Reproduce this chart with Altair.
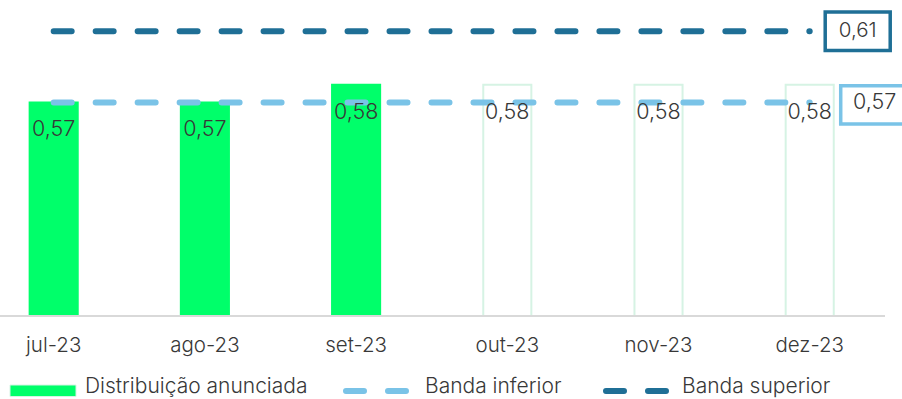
import altair as alt
import pandas as pd

# Monthly distribution per share (R$) and the guidance band
meses = ["jul-23", "ago-23", "set-23", "out-23", "nov-23", "dez-23"]
distribuicao = [0.57, 0.57, 0.58, 0.58, 0.58, 0.58]
situacao = ["Anunciada", "Anunciada", "Anunciada", "Estimada", "Estimada", "Estimada"]
banda_inferior = [0.57, 0.57, 0.57, 0.57, 0.57, 0.57]
banda_superior = [0.61, 0.61, 0.61, 0.61, 0.61, 0.61]
legenda = ["Distribuição anunciada", "Banda inferior", "Banda superior"]

VERDE = "#00FF6A"
MENTA = "#D6F3E4"
AZUL_CLARO = "#7AC3E7"
AZUL_ESCURO = "#1F6F96"
TEXTO = "#383838"
FONTE = "Inter"
PESO = 300
BASE = 0.45  # bottom of the value axis

barras_df = pd.DataFrame({"mes": meses, "valor": distribuicao, "situacao": situacao})
bandas_df = pd.DataFrame({
    "mes": meses + meses,
    "valor": banda_inferior + banda_superior,
    "banda": [legenda[1]] * len(meses) + [legenda[2]] * len(meses),
})
inf_df = pd.DataFrame({"mes": [meses[-1]], "valor": [banda_inferior[-1]]})
sup_df = pd.DataFrame({"mes": [meses[-1]], "valor": [banda_superior[-1]]})
um = pd.DataFrame({"k": [0]})

rotulo = "replace(format(datum.valor, '.2f'), '.', ',')"

x_enc = alt.X(
    "mes:N", sort=meses,
    scale=alt.Scale(type="band", domain=meses, range=[-0.9, 864.3],
                    paddingInner=0.682, paddingOuter=0.202),
    axis=alt.Axis(title=None, domain=False, ticks=False, grid=False, labelAngle=0,
                  labelFont=FONTE, labelFontSize=20.5, labelFontWeight=PESO,
                  labelColor=TEXTO, labelPadding=19),
)
y_scale = alt.Scale(domain=[BASE, 0.61], range=[316, 31.3], zero=False, nice=False)
y_enc = alt.Y("valor:Q", scale=y_scale, axis=None)

barras = alt.Chart(barras_df).mark_bar(strokeWidth=2).encode(
    x=x_enc,
    y=y_enc,
    y2=alt.datum(BASE),
    fill=alt.Fill("situacao:N", scale=alt.Scale(domain=["Anunciada", "Estimada"],
                                                 range=[VERDE, "#FFFFFF"]), legend=None),
    stroke=alt.Stroke("situacao:N", scale=alt.Scale(domain=["Anunciada", "Estimada"],
                                                     range=[VERDE, MENTA]), legend=None),
)

eixo = alt.Chart(um).mark_rule(color="#D9D9D9", strokeWidth=2).encode(
    x=alt.value(0), x2=alt.value(885), y=alt.value(316)
)

linhas = alt.Chart(bandas_df).mark_line(
    strokeWidth=6, strokeDash=[18, 23.98], strokeCap="round"
).encode(
    x=x_enc,
    y=y_enc,
    color=alt.Color("banda:N", scale=alt.Scale(domain=legenda[1:],
                                               range=[AZUL_CLARO, AZUL_ESCURO]), legend=None),
    detail="banda:N",
)

rotulos = alt.Chart(barras_df).transform_calculate(txt=rotulo).mark_text(
    font=FONTE, fontSize=21.5, fontWeight=PESO, color=TEXTO, baseline="alphabetic", dy=34
).encode(x=x_enc, y=y_enc, text="txt:N")

CAIXA = "M-1,-0.592H1V0.592H-1Z"

caixa_sup = alt.Chart(sup_df).mark_point(
    shape=CAIXA, size=4225, filled=False, fill="#FFFFFF", fillOpacity=1,
    stroke=AZUL_ESCURO, strokeWidth=3.5, opacity=1, xOffset=48
).encode(x=x_enc, y=y_enc)
texto_sup = alt.Chart(sup_df).transform_calculate(txt=rotulo).mark_text(
    font=FONTE, fontSize=20.5, fontWeight=PESO, color=TEXTO, baseline="middle", xOffset=48
).encode(x=x_enc, y=y_enc, text="txt:N")

caixa_inf = alt.Chart(inf_df).mark_point(
    shape=CAIXA, size=4225, filled=False, fill="#FFFFFF", fillOpacity=1,
    stroke=AZUL_CLARO, strokeWidth=3.5, opacity=1, xOffset=63.5, yOffset=2.4
).encode(x=x_enc, y=y_enc)
texto_inf = alt.Chart(inf_df).transform_calculate(txt=rotulo).mark_text(
    font=FONTE, fontSize=21.5, fontWeight=PESO, color=TEXTO, baseline="middle",
    xOffset=65, yOffset=1
).encode(x=x_enc, y=y_enc, text="txt:N")

# Legend row under the axis
leg_barra = alt.Chart(um).mark_rect(fill=VERDE, stroke=MENTA, strokeWidth=1).encode(
    x=alt.value(10), x2=alt.value(76), y=alt.value(385), y2=alt.value(396.5)
)
leg_inf = alt.Chart(um).mark_rule(
    color=AZUL_CLARO, strokeWidth=6, strokeDash=[18, 24], strokeCap="round"
).encode(x=alt.value(346), x2=alt.value(406), y=alt.value(391))
leg_sup = alt.Chart(um).mark_rule(
    color=AZUL_ESCURO, strokeWidth=6, strokeDash=[18, 24], strokeCap="round"
).encode(x=alt.value(606), x2=alt.value(666), y=alt.value(391))

def leg_texto(txt, xpos):
    return alt.Chart(um).mark_text(
        font=FONTE, fontSize=21, fontWeight=PESO, color=TEXTO,
        align="left", baseline="alphabetic"
    ).encode(x=alt.value(xpos), y=alt.value(393), text=alt.value(txt))

chart = alt.layer(
    barras, eixo, linhas, rotulos,
    caixa_sup, texto_sup, caixa_inf, texto_inf,
    leg_barra, leg_inf, leg_sup,
    leg_texto(legenda[0], 85), leg_texto(legenda[1], 425), leg_texto(legenda[2], 682),
).properties(
    width=885, height=316,
    autosize=alt.AutoSizeParams(type="none"),
    padding={"left": 0, "top": 0, "right": 17, "bottom": 83},
    background="#FFFFFF",
).configure_view(stroke=None)

chart.save("out.html", embed_options={"renderer": "svg", "actions": False})
